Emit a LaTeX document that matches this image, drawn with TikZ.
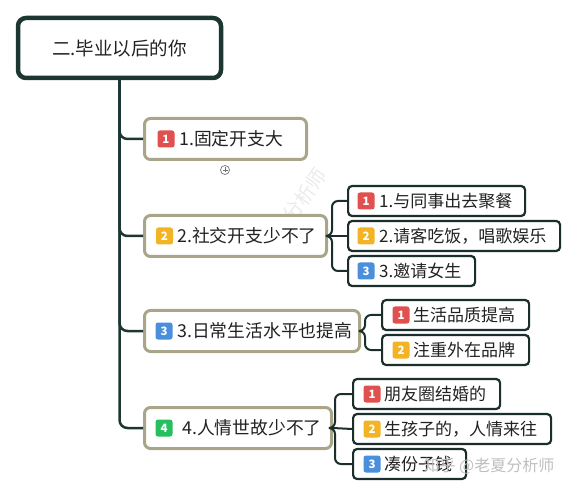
\documentclass[tikz,border=0pt]{standalone}
\usepackage{fontspec}
\setmainfont{Noto Sans CJK SC}
\usetikzlibrary{calc}
\definecolor{trunkc}{HTML}{1C3631}
\definecolor{branchc}{HTML}{A8A588}
\definecolor{leafc}{HTML}{1B2E2C}
\definecolor{txtc}{HTML}{222222}
\definecolor{bred}{HTML}{E0504F}
\definecolor{byel}{HTML}{F2B324}
\definecolor{bblue}{HTML}{4A8FDB}
\definecolor{bgreen}{HTML}{26BF5E}
\tikzset{
  rootbox/.style={draw=trunkc, line width=4.5pt, rounded corners=8pt, fill=white, minimum width=203pt, minimum height=60pt, inner sep=0pt, text=txtc, font=\fontsize{18.5}{20}\selectfont},
  branchbox/.style={draw=branchc, line width=3pt, rounded corners=6pt, fill=white, minimum height=41pt, inner sep=0pt, anchor=west},
  leafbox/.style={draw=leafc, line width=2.2pt, rounded corners=4pt, fill=white, minimum height=30pt, inner sep=0pt, anchor=west},
  badge/.style={rounded corners=2.5pt, minimum size=17pt, inner sep=0pt, text=white, font=\fontsize{11.5}{12}\selectfont\bfseries},
  btxt/.style={anchor=west, inner sep=0pt, text=txtc, font=\fontsize{17.8}{19}\selectfont},
  ltxt/.style={anchor=west, inner sep=0pt, text=txtc, font=\fontsize{17}{19}\selectfont},
  trunk/.style={draw=trunkc, line width=2.5pt, rounded corners=8pt},
  twig/.style={draw=leafc, line width=2pt, rounded corners=6pt},
}
\begin{document}
\begin{tikzpicture}[x=1pt,y=-1pt]
\useasboundingbox (0,0) rectangle (576,497);
% faint diagonal watermark
\node[text=black!8, rotate=55, font=\fontsize{20}{22}\selectfont] (wm1) at (305,195) {分析师};
% root and branch boxes
\node[rootbox] (root) at (119.5,48) {二.毕业以后的你};
\node[branchbox, minimum width=162pt] (n1) at (143,139) {};
\node[branchbox, minimum width=182pt] (n2) at (143,236) {};
\node[branchbox, minimum width=215pt] (n3) at (143,331) {};
\node[branchbox, minimum width=187pt] (n4) at (143,428) {};
% trunk connectors
\draw[trunk] (root.south) |- (n1.west);
\draw[trunk] (root.south) |- (n2.west);
\draw[trunk] (root.south) |- (n3.west);
\draw[trunk] (root.south) |- (n4.west);
% leaf boxes
\node[leafbox, minimum width=177pt] (l21) at (347,201) {};
\node[leafbox, minimum width=212pt] (l22) at (347,236) {};
\node[leafbox, minimum width=127pt] (l23) at (347,271) {};
\node[leafbox, minimum width=147pt] (l31) at (381,315) {};
\node[leafbox, minimum width=147pt] (l32) at (381,350) {};
\node[leafbox, minimum width=147pt] (l41) at (352,394) {};
\node[leafbox, minimum width=198pt] (l42) at (352,429) {};
\node[leafbox, minimum width=113pt] (l43) at (352,464) {};
% twig connectors
\draw[twig] (n2.east) -- ([xshift=4pt]n2.east) |- (l21.west);
\draw[twig] (n2.east) -- (l22.west);
\draw[twig] (n2.east) -- ([xshift=4pt]n2.east) |- (l23.west);
\draw[twig] (n3.east) -- ([xshift=4pt]n3.east) |- (l31.west);
\draw[twig] (n3.east) -- ([xshift=4pt]n3.east) |- (l32.west);
\draw[twig] (n4.east) -- ([xshift=2pt]n4.east) |- (l41.west);
\draw[twig] (n4.east) -- (l42.west);
\draw[twig] (n4.east) -- ([xshift=2pt]n4.east) |- (l43.west);
% branch contents
\node[badge, fill=bred] (b1) at (166,139) {1};
\node[btxt] (t1) at (179,139) {1.固定开支大};
\node[badge, fill=byel] (b2) at (164.5,236) {2};
\node[btxt] (t2) at (177,236) {2.社交开支少不了};
\node[badge, fill=bblue] (b3) at (164,331) {3};
\node[btxt] (t3) at (177,331) {3.日常生活水平也提高};
\node[badge, fill=bgreen] (b4) at (164,428) {4};
\node[btxt] (t4) at (182,428) {4.人情世故少不了};
% leaf contents
\node[badge, fill=bred] (b21) at (366,201) {1};
\node[ltxt] (t21) at (379,201) {1.与同事出去聚餐};
\node[badge, fill=byel] (b22) at (366,236) {2};
\node[ltxt] (t22) at (379,236) {2.请客吃饭，唱歌娱乐};
\node[badge, fill=bblue] (b23) at (366,271) {3};
\node[ltxt] (t23) at (379,271) {3.邀请女生};
\node[badge, fill=bred] (b31) at (401,315) {1};
\node[ltxt] (t31) at (413,315) {生活品质提高};
\node[badge, fill=byel] (b32) at (401,350) {2};
\node[ltxt] (t32) at (413,350) {注重外在品牌};
\node[badge, fill=bred] (b41) at (372,394) {1};
\node[ltxt] (t41) at (384,394) {朋友圈结婚的};
\node[badge, fill=byel] (b42) at (372,429) {2};
\node[ltxt] (t42) at (384,429) {生孩子的，人情来往};
\node[badge, fill=bblue] (b43) at (372,464) {3};
\node[ltxt] (t43) at (384,464) {凑份子钱};
% expand icon
\node[draw=black!55, circle, line width=0.7pt, minimum size=9pt, inner sep=0pt] (plus) at (225,170) {};
\draw[black!55, line width=0.7pt] ([xshift=-2.5pt]plus.center) -- ([xshift=2.5pt]plus.center);
\draw[black!55, line width=0.7pt] ([yshift=-2.5pt]plus.center) -- ([yshift=2.5pt]plus.center);
% bottom watermark
\node[text=black!25, anchor=west, font=\fontsize{16}{17}\selectfont] (wm2) at (420,466) {知乎 @老夏分析师};
\end{tikzpicture}
\end{document}
